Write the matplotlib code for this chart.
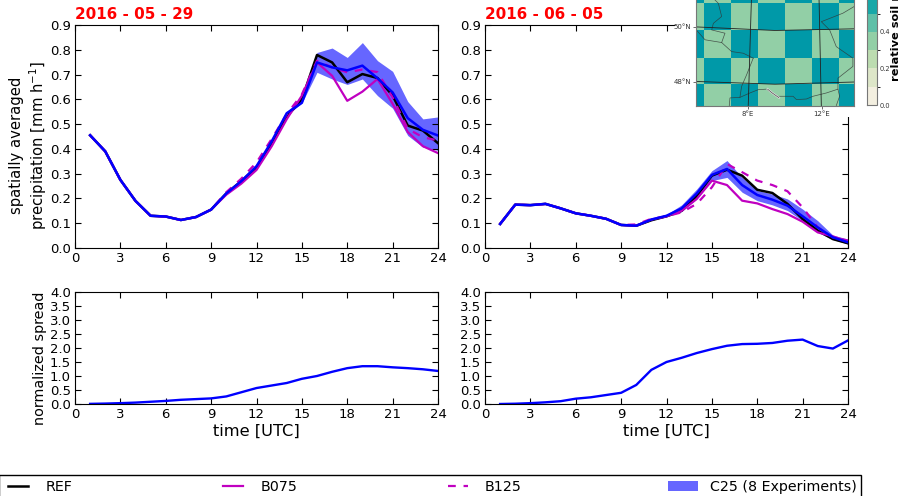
import numpy as np
import matplotlib
matplotlib.use("Agg")
import matplotlib.pyplot as plt
from matplotlib.colors import ListedColormap, BoundaryNorm
from matplotlib.legend_handler import HandlerLine2D
from matplotlib.lines import Line2D
from matplotlib.patches import Patch

# hours
hours = list(range(1, 25))

# 2016-05-29
ref_a = [.455, .39, .275, .19, .13, .127, .113, .125, .155, .22, .27, .325, .42, .53, .60, .779, .749, .669, .702, .686, .615, .494, .474, .423]
b075_a = [.455, .39, .275, .19, .13, .127, .113, .125, .155, .215, .26, .315, .41, .52, .615, .749, .695, .594, .631, .682, .582, .468, .411, .383]
b125_a = [.455, .39, .275, .19, .13, .127, .113, .125, .155, .225, .28, .345, .44, .54, .62, .756, .729, .709, .72, .71, .608, .481, .447, .434]
mean_a = [.455, .39, .275, .19, .13, .127, .113, .125, .155, .22, .27, .33, .43, .544, .586, .749, .729, .717, .736, .685, .628, .524, .477, .454]
top_a = [.455, .39, .275, .19, .13, .127, .113, .125, .157, .225, .275, .34, .44, .55, .61, .789, .807, .769, .829, .756, .713, .591, .521, .529]
low_a = [.455, .39, .275, .19, .13, .127, .113, .125, .153, .215, .265, .32, .42, .535, .585, .709, .682, .66, .682, .615, .564, .454, .407, .394]
spread_a = [.005, .015, .03, .05, .08, .11, .15, .175, .2, .27, .42, .57, .66, .75, .9, 1.0, 1.15, 1.28, 1.35, 1.35, 1.31, 1.28, 1.24, 1.18]

# 2016-06-05
ref_b = [.097, .175, .173, .178, .16, .14, .13, .118, .093, .09, .112, .128, .15, .21, .292, .316, .292, .235, .222, .178, .117, .07, .036, .019]
b075_b = [.097, .175, .173, .178, .16, .14, .13, .118, .093, .09, .115, .128, .15, .198, .272, .254, .191, .18, .157, .137, .106, .063, .047, .026]
b125_b = [.097, .175, .173, .178, .16, .14, .13, .118, .093, .095, .118, .128, .144, .178, .245, .339, .306, .272, .254, .229, .164, .083, .043, .03]
mean_b = [.097, .175, .173, .178, .16, .14, .13, .118, .093, .09, .115, .13, .16, .22, .295, .319, .254, .214, .195, .171, .128, .083, .043, .023]
top_b = [.097, .175, .173, .178, .16, .14, .13, .118, .095, .093, .118, .135, .174, .238, .312, .353, .285, .232, .218, .198, .157, .11, .052, .036]
low_b = [.097, .175, .173, .178, .16, .14, .13, .118, .091, .087, .112, .125, .147, .198, .272, .285, .225, .191, .174, .151, .11, .063, .034, .016]
spread_b = [0, .01, .03, .06, .1, .19, .24, .32, .4, .68, 1.22, 1.5, 1.65, 1.82, 1.96, 2.08, 2.14, 2.15, 2.18, 2.26, 2.3, 2.07, 1.98, 2.27]

dates = ["2016 - 05 - 29", "2016 - 06 - 05"]

# inset map: checkerboard of soil moisture
map_lons = [5.19, 5.62, 7.08, 8.54, 10.0, 11.46, 12.92, 13.75]
map_lats = [47.115, 47.90, 48.88, 49.87, 50.86, 51.2]
soil = [[.65, .35, .65, .35, .65, .35, .65],
        [.35, .65, .35, .65, .35, .65, .35],
        [.65, .35, .65, .35, .65, .35, .65],
        [.35, .65, .35, .65, .35, .65, .35],
        [.65, .35, .65, .35, .65, .35, .65]]
soil_levels = [0, .1, .2, .3, .4, .5, .6, 1.0]
soil_colors = ["#f3efe0", "#dde6c8", "#bcdcb0", "#92cfa6", "#5fc0a8", "#18a8a8", "#0099a8"]

borders = [
    ([6.99, 7.03, 7.57, 8.11, 8.56, 9.01, 9.55, 10.45, 10.63, 11.17, 11.53, 12.25, 12.88, 12.97, 12.79],
     [47.10, 47.41, 47.43, 47.59, 47.71, 47.73, 47.47, 47.47, 47.35, 47.37, 47.47, 47.59, 47.73, 47.47, 47.13]),
    ([8.29, 7.93, 7.66, 7.57], [48.86, 48.25, 47.83, 47.43]),
    ([5.23, 5.68, 6.58, 6.76, 6.04, 6.13, 6.58, 6.40, 6.13], [49.87, 49.53, 49.43, 49.77, 49.89, 50.13, 50.38, 50.86, 51.04]),
    ([6.58, 7.12, 7.75, 8.29], [49.43, 49.10, 49.04, 48.86]),
    ([13.75, 13.15, 11.98, 12.43, 12.79, 13.69, 13.69, 12.88, 12.88], [50.74, 50.50, 50.19, 49.89, 49.28, 48.86, 48.56, 48.13, 47.73]),
]
grid_lines = [
    ([5.19, 9.47, 13.75], [50.0, 49.87, 49.93]),
    ([5.19, 9.47, 13.75], [48.01, 47.91, 47.99]),
    ([8.02, 8.2], [47.115, 51.2]),
    ([11.98, 11.85], [47.115, 51.2]),
]
lake_lon = [9.07, 9.3, 9.68]
lake_lat = [47.73, 47.6, 47.42]

W, H = 901, 496
def box(x0, y0, x1, y1):
    # pixel box (y from the top) to figure fractions
    return [x0 / W, 1 - y1 / H, (x1 - x0) / W, (y1 - y0) / H]

class ShortLine(HandlerLine2D):
    # line legend key, shorter than the patch key and centred in the same box
    def adjust_drawing_area(self, legend, orig_handle, xdescent, ydescent, width, height, fontsize):
        return xdescent - 0.17 * width, ydescent, 0.66 * width, height

fig = plt.figure(figsize=(9.01, 4.96), dpi=100)
tick_fs = 9.5

tops = [box(75, 25, 438, 248), box(485, 25, 848, 248)]
bots = [box(75, 292, 438, 404), box(485, 292, 848, 404)]
sets = [(ref_a, b075_a, b125_a, mean_a, top_a, low_a, spread_a),
        (ref_b, b075_b, b125_b, mean_b, top_b, low_b, spread_b)]

for i in range(2):
    ref, b075, b125, mean, top, low, spread = sets[i]
    ax = fig.add_axes(tops[i])
    ax.plot(hours, ref, color="k", lw=1.8)
    ax.plot(hours, b075, color="#c000c0", lw=1.6)
    ax.plot(hours, b125, color="#c000c0", lw=1.6, ls=(0, (3.5, 3.5)))
    ax.fill_between(hours, low, top, color="#0000ff", alpha=0.6, lw=0)
    ax.plot(hours, mean, color="#0000ff", lw=1.8)
    ax.set_xlim(0, 24)
    ax.set_ylim(0, 0.9)
    ax.set_xticks(range(0, 25, 3))
    ax.set_yticks(np.arange(0, 0.95, 0.1))
    ax.tick_params(direction="in", top=True, right=True, labelsize=tick_fs, length=4, pad=3)
    ax.text(0, 1.012, dates[i], transform=ax.transAxes, color="red", fontsize=10.9, fontweight="bold", va="bottom")
    if i == 0:
        ax.set_ylabel("spatially averaged\nprecipitation [mm h$^{-1}$]", fontsize=10.6)
        ax.yaxis.set_label_coords(-26 / 363, 0.46)

    ax2 = fig.add_axes(bots[i])
    ax2.plot(hours, spread, color="#0000ff", lw=1.7)
    ax2.set_xlim(0, 24)
    ax2.set_ylim(0, 4)
    ax2.set_xticks(range(0, 25, 3))
    ax2.set_yticks(np.arange(0, 4.5, 0.5))
    ax2.tick_params(direction="in", top=True, right=True, labelsize=tick_fs, length=4, pad=3)
    ax2.set_xlabel("time [UTC]", fontsize=11.7, labelpad=2)
    if i == 0:
        ax2.set_ylabel("normalized spread", fontsize=10.4)
        ax2.yaxis.set_label_coords(-28 / 363, 0.41)

# white panel behind the inset hides the corner of the right axes
bg = fig.add_axes(box(675, 0, 901, 117))
bg.axis("off")
bg.add_patch(plt.Rectangle((0, 0), 1, 1, color="white", transform=bg.transAxes))

cmap = ListedColormap(soil_colors)
norm = BoundaryNorm(soil_levels, cmap.N)

m = fig.add_axes(box(696, -6, 854, 106))
m.pcolormesh(map_lons, map_lats, soil, cmap=cmap, norm=norm)
for lon, lat in borders:
    m.plot(lon, lat, color="#333333", lw=0.5, alpha=0.8)
for lon, lat in grid_lines:
    m.plot(lon, lat, color="#222222", lw=0.6)
m.plot(lake_lon, lake_lat, color="#dddddd", lw=1.5)
m.plot(lake_lon, lake_lat, color="#333333", lw=0.4)
m.set_xlim(map_lons[0], map_lons[-1])
m.set_ylim(map_lats[0], map_lats[-1])
m.set_xticks([8, 12], ["8°E", "12°E"])
m.set_yticks([48, 50], ["48°N", "50°N"])
m.tick_params(labelsize=5, length=2, width=0.5, pad=1.5, colors="#333333")
for s in m.spines.values():
    s.set_color("#777777")

cax = fig.add_axes(box(867, -78, 877, 105))
sm = plt.cm.ScalarMappable(norm=norm, cmap=cmap)
cb = fig.colorbar(sm, cax=cax, spacing="proportional", ticks=[0, .2, .4, .6, .8, 1.0])
cb.ax.tick_params(labelsize=4.8, length=0, pad=2, colors="#333333")
cb.outline.set_edgecolor("#777777")
fig.text(896 / W, 1 - 12 / H, "relative soil moisture", rotation=90, fontsize=8.2, fontweight="bold", ha="center", va="center")

handles = [Line2D([], [], color="k", lw=1.8),
           Line2D([], [], color="#c000c0", lw=1.6),
           Line2D([], [], color="#c000c0", lw=1.6, ls=(0, (3.5, 3.5))),
           Patch(facecolor="#6666ff", edgecolor="none")]
names = ["REF", "B075", "B125", "C25 (8 Experiments)"]
fig.legend(handles, names, ncol=4, mode="expand", loc="lower left",
           bbox_to_anchor=(-1 / W, -2 / H, 862 / W, 24 / H), fontsize=10.3, fancybox=False,
           edgecolor="k", framealpha=1, borderaxespad=0, handlelength=2.1, handletextpad=0.85, borderpad=0.3,
           handler_map={Line2D: ShortLine()})

fig.savefig("out.png", dpi=100)
